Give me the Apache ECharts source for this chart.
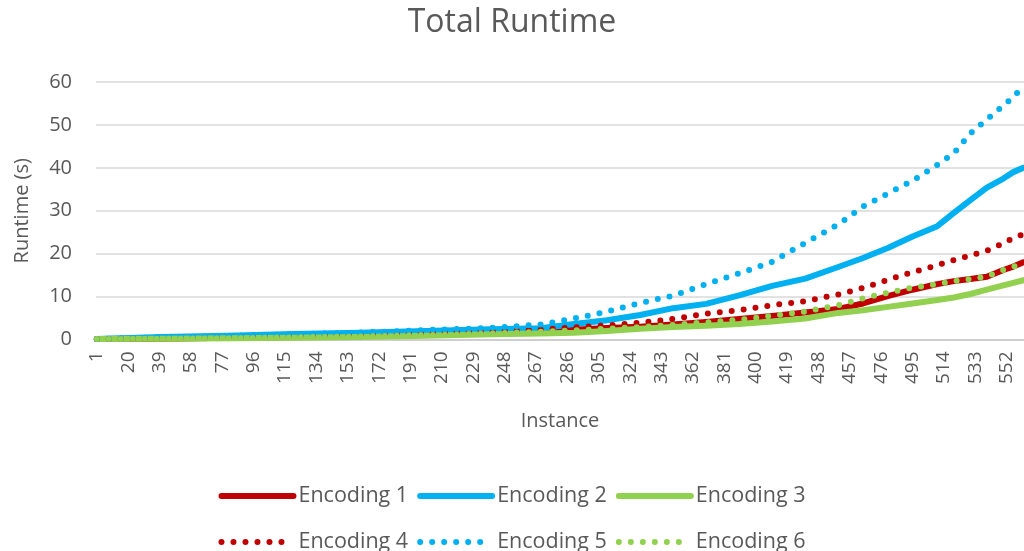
<!DOCTYPE html>
<html>
<head>
<meta charset="utf-8">
<title>Total Runtime</title>
<script src="https://cdn.jsdelivr.net/npm/echarts@6/dist/echarts.min.js"></script>
<style>
  html, body { margin: 0; padding: 0; background: #ffffff; }
  #chart { width: 1024px; height: 551px; }
</style>
</head>
<body>
<div id="chart"></div>
<script>
// Instance numbers at which each encoding's runtime was recorded
const instances = [1, 40, 80, 120, 160, 200, 240, 270, 290, 310, 330, 350, 370, 390, 410, 430, 450, 465, 480, 495, 510, 520, 530, 540, 550, 556, 562];

// Cumulative runtime in seconds for each encoding
const encoding1 = [0.1, 0.2, 0.4, 0.6, 0.8, 1.1, 1.5, 1.9, 2.3, 2.7, 3.0, 3.5, 4.1, 4.8, 5.5, 6.3, 7.1, 8.4, 10.1, 11.6, 12.9, 13.6, 14.1, 14.6, 16.2, 17.0, 18.0];
const encoding2 = [0.1, 0.6, 0.9, 1.3, 1.6, 2.0, 2.4, 2.6, 3.6, 4.5, 5.7, 7.3, 8.3, 10.3, 12.5, 14.2, 16.9, 19.0, 21.3, 24.0, 26.4, 29.5, 32.5, 35.4, 37.5, 39.0, 40.0];
const encoding3 = [0.1, 0.2, 0.3, 0.4, 0.6, 0.9, 1.2, 1.4, 1.6, 2.0, 2.5, 2.9, 3.2, 3.6, 4.2, 4.9, 6.2, 6.8, 7.6, 8.4, 9.2, 9.8, 10.6, 11.6, 12.6, 13.2, 13.8];
const encoding4 = [0.1, 0.3, 0.5, 0.8, 1.1, 1.5, 1.9, 2.3, 2.8, 3.3, 3.9, 4.8, 6.0, 6.8, 8.0, 8.9, 10.5, 12.0, 13.9, 15.7, 17.3, 18.5, 19.6, 20.7, 22.4, 23.7, 24.5];
const encoding5 = [0.1, 0.5, 0.8, 1.2, 1.6, 2.2, 2.7, 3.5, 4.9, 6.5, 8.5, 10.2, 12.9, 15.4, 18.1, 22.5, 26.8, 31.0, 34.0, 37.0, 40.7, 43.4, 48.0, 51.3, 54.5, 56.5, 59.0];
const encoding6 = [0.1, 0.2, 0.3, 0.5, 0.7, 1.0, 1.4, 1.8, 2.1, 2.5, 2.9, 3.4, 4.0, 4.6, 5.5, 6.5, 8.0, 9.6, 10.9, 12.1, 12.9, 13.6, 14.1, 14.7, 16.2, 17.0, 17.8];

// Instance axis: one category per instance
const instanceCount = 562;
const categories = [];
for (let i = 1; i <= instanceCount; i++) categories.push(String(i));

const seriesNames = ['Encoding 1', 'Encoding 2', 'Encoding 3', 'Encoding 4', 'Encoding 5', 'Encoding 6'];

const RED = '#C00000';
const BLUE = '#00B0F0';
const GREEN = '#92D050';
const TEXT = '#595959';
const FONT = 'Open Sans';

const SOLID_WIDTH = 6;
const DOT_WIDTH = 6;
const DOT_PATTERN = [0, 12];

function pairs(values) {
  return values.map((v, i) => [instances[i] - 1, v]);
}

function solid(name, color, values) {
  return {
    name, type: 'line', data: pairs(values), symbol: 'none', smooth: false,
    color,
    lineStyle: { color, width: SOLID_WIDTH, cap: 'round', join: 'round' }
  };
}

function dotted(name, color, values) {
  return {
    name, type: 'line', data: pairs(values), symbol: 'none', smooth: false,
    color,
    lineStyle: { color, width: DOT_WIDTH, type: DOT_PATTERN, cap: 'round', join: 'round' }
  };
}

const chart = echarts.init(document.getElementById('chart'), null, { renderer: 'canvas' });

const legendText = { color: TEXT, fontFamily: FONT, fontSize: 21.5 };

chart.setOption({
  animation: false,
  backgroundColor: '#ffffff',
  title: {
    text: 'Total Runtime',
    left: 'center',
    top: 2,
    textStyle: { color: TEXT, fontFamily: FONT, fontSize: 32, fontWeight: 'normal' }
  },
  legend: [
    {
      data: seriesNames.slice(0, 3),
      left: 'center', top: 480,
      itemWidth: 72, itemHeight: 14, itemGap: 9,
      itemStyle: { opacity: 0 },
      lineStyle: { width: SOLID_WIDTH, cap: 'round' },
      textStyle: legendText
    },
    {
      data: seriesNames.slice(3, 6),
      left: 'center', top: 526,
      itemWidth: 72, itemHeight: 14, itemGap: 9,
      itemStyle: { opacity: 0 },
      lineStyle: { width: DOT_WIDTH, type: DOT_PATTERN, cap: 'round' },
      textStyle: legendText
    }
  ],
  grid: { left: 96, right: 0, top: 82, bottom: 211.5, containLabel: false },
  xAxis: {
    type: 'category',
    data: categories,
    boundaryGap: true,
    name: 'Instance',
    nameLocation: 'middle',
    nameGap: 72,
    nameTextStyle: { color: TEXT, fontFamily: FONT, fontSize: 20 },
    axisLine: { show: true, lineStyle: { color: '#c8c8c8', width: 1.5 } },
    axisTick: { show: false },
    axisLabel: {
      interval: 18, rotate: 90, margin: 12,
      color: TEXT, fontFamily: FONT, fontSize: 19
    },
    splitLine: { show: false }
  },
  yAxis: {
    type: 'value',
    min: 0, max: 60, interval: 10,
    name: 'Runtime (s)',
    nameLocation: 'middle',
    nameGap: 64,
    nameTextStyle: { color: TEXT, fontFamily: FONT, fontSize: 20 },
    axisLine: { show: false },
    axisTick: { show: false },
    axisLabel: { margin: 24, color: TEXT, fontFamily: FONT, fontSize: 20 },
    splitLine: { lineStyle: { color: '#d9d9d9', width: 1.5 } }
  },
  series: [
    solid('Encoding 1', RED, encoding1),
    solid('Encoding 2', BLUE, encoding2),
    solid('Encoding 3', GREEN, encoding3),
    dotted('Encoding 4', RED, encoding4),
    dotted('Encoding 5', BLUE, encoding5),
    dotted('Encoding 6', GREEN, encoding6)
  ]
});
</script>
</body>
</html>
